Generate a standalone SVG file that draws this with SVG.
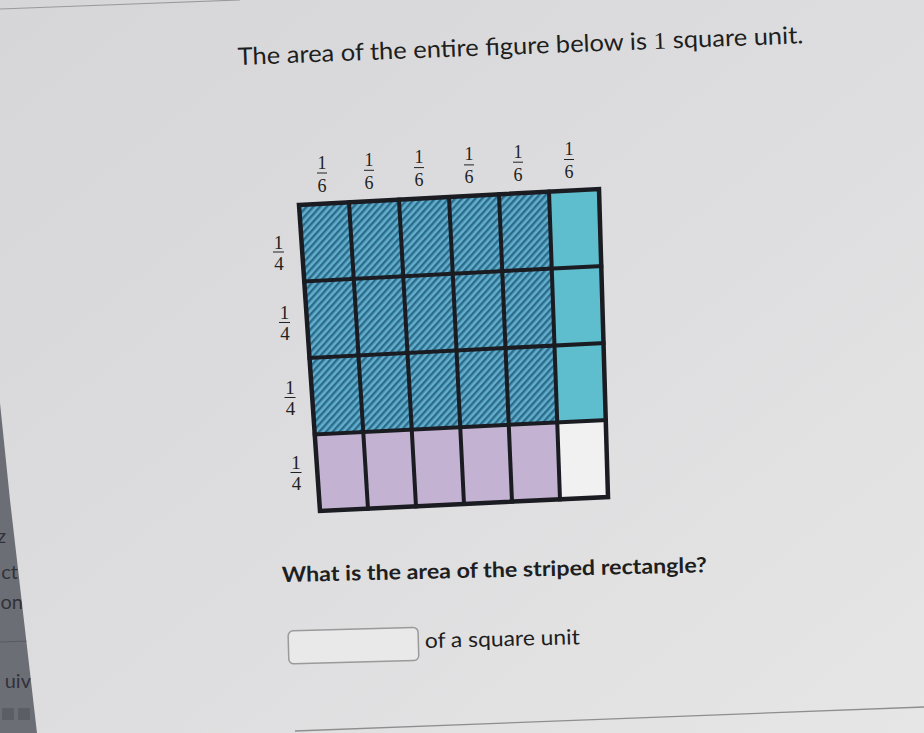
<svg xmlns="http://www.w3.org/2000/svg" width="924" height="733" viewBox="0 0 924 733">
<defs>
<linearGradient id="bg" x1="0" y1="0" x2="1" y2="1">
<stop offset="0" stop-color="#d6d6d8"/>
<stop offset="0.5" stop-color="#dddddf"/>
<stop offset="1" stop-color="#e6e6e6"/>
</linearGradient>
<pattern id="stripes" patternUnits="userSpaceOnUse" width="5" height="5" patternTransform="rotate(42)">
<rect x="0" y="0" width="5" height="5" fill="#62aecd"/>
<rect x="0" y="0" width="2.4" height="5" fill="#2c6b8a"/>
</pattern>
<clipPath id="side"><polygon points="0,403 10,500 37,733 0,733"/></clipPath>
<style>
.sans{font-family:Lato,"Open Sans","Liberation Sans",sans-serif;fill:#1e1e20}
.frac{font-family:"Liberation Serif","DejaVu Serif",serif;fill:#222;text-anchor:middle}
.bar{stroke:#222;stroke-width:1}
.grid{stroke:#1a1c22;stroke-width:4;fill:none;stroke-linecap:square}
</style>
</defs>
<rect x="0" y="0" width="924" height="733" fill="url(#bg)"/>
<line x1="0" y1="9" x2="240" y2="0" stroke="#9a9a9c" stroke-width="1.2"/>
<line x1="295" y1="731" x2="924" y2="707" stroke="#8e8e90" stroke-width="1.3"/>

<g id="sidebar">
<polygon points="0,403 10,500 37,733 0,733" fill="#6c6e76"/>
<g clip-path="url(#side)" font-family="Lato,'Liberation Sans',sans-serif" font-size="20" fill="#30323a" text-anchor="end">
<text x="6" y="543">z</text>
<text x="18" y="579">ct</text>
<text x="23" y="609">on</text>
<line x1="0" y1="642" x2="30" y2="641" stroke="#585a62" stroke-width="1"/>
<text x="31" y="688">uiv</text>
<rect x="2" y="708" width="12" height="12" fill="#5c5e66"/>
<rect x="18" y="708" width="12" height="12" fill="#5c5e66"/>
</g>
</g>

<g id="title">
<text class="sans" x="238" y="65" font-size="24" textLength="566" lengthAdjust="spacingAndGlyphs" transform="rotate(-2.2 238 65)">The area of the entire figure below is <tspan font-family="'Liberation Serif',serif">1</tspan> square unit.</text>
</g>

<g id="figure">
<polygon id="striped" points="299,205 549,191.67 557.25,422.42 314.75,434.5" fill="url(#stripes)"/>
<polygon id="cyan" points="549,191.67 599,189 605.75,420 557.25,422.42" fill="#5ebecd"/>
<polygon id="purple" points="314.75,434.5 557.25,422.42 560,499.33 320,511" fill="#c4b2d2"/>
<polygon id="white" points="557.25,422.42 605.75,420 608,497 560,499.33" fill="#f1f1f1"/>
<g class="grid">
<line x1="349" y1="202.33" x2="368" y2="508.67"/>
<line x1="399" y1="199.67" x2="416" y2="506.33"/>
<line x1="449" y1="197" x2="464" y2="504"/>
<line x1="499" y1="194.33" x2="512" y2="501.67"/>
<line x1="549" y1="191.67" x2="560" y2="499.33"/>
<line x1="304.25" y1="281.5" x2="601.25" y2="266"/>
<line x1="309.5" y1="358" x2="603.5" y2="343"/>
<line x1="314.75" y1="434.5" x2="605.75" y2="420"/>
<polygon points="299,205 599,189 608,497 320,511" stroke-width="4.5" stroke-linejoin="miter"/>
</g>
</g>

<g id="top-labels" font-size="18">
<g id="c1"><text class="frac" x="322" y="168.5">1</text><line class="bar" x1="317" y1="173" x2="327" y2="173"/><text class="frac" x="322" y="191.5">6</text></g>
<g id="c2"><text class="frac" x="369" y="165.8">1</text><line class="bar" x1="364" y1="170.3" x2="374" y2="170.3"/><text class="frac" x="369" y="188.8">6</text></g>
<g id="c3"><text class="frac" x="419" y="163.1">1</text><line class="bar" x1="414" y1="167.6" x2="424" y2="167.6"/><text class="frac" x="419" y="186.1">6</text></g>
<g id="c4"><text class="frac" x="469" y="160.4">1</text><line class="bar" x1="464" y1="164.9" x2="474" y2="164.9"/><text class="frac" x="469" y="183.4">6</text></g>
<g id="c5"><text class="frac" x="518" y="157.7">1</text><line class="bar" x1="513" y1="162.2" x2="523" y2="162.2"/><text class="frac" x="518" y="180.7">6</text></g>
<g id="c6"><text class="frac" x="569" y="155">1</text><line class="bar" x1="564" y1="159.5" x2="574" y2="159.5"/><text class="frac" x="569" y="178">6</text></g>
</g>

<g id="left-labels" font-size="19">
<g id="r1"><text class="frac" x="278.5" y="248.5">1</text><line class="bar" x1="273" y1="252" x2="284" y2="252"/><text class="frac" x="279" y="269.5">4</text></g>
<g id="r2"><text class="frac" x="284.5" y="318.7">1</text><line class="bar" x1="279" y1="322.5" x2="290" y2="322.5"/><text class="frac" x="285" y="340">4</text></g>
<g id="r3"><text class="frac" x="290" y="393.7">1</text><line class="bar" x1="284.5" y1="397.5" x2="295.5" y2="397.5"/><text class="frac" x="290.5" y="415">4</text></g>
<g id="r4"><text class="frac" x="296" y="468.7">1</text><line class="bar" x1="290.5" y1="472.5" x2="301.5" y2="472.5"/><text class="frac" x="296.5" y="490">4</text></g>
</g>

<g id="question">
<text class="sans" x="282" y="582" font-size="21" font-weight="bold" textLength="425" lengthAdjust="spacingAndGlyphs" transform="rotate(-1.3 282 582)">What is the area of the striped rectangle?</text>
</g>

<g id="answer">
<rect x="288" y="631" width="130" height="33" rx="5" fill="#e9e9e9" stroke="#9a9a9a" stroke-width="1.5" transform="rotate(-1.6 288 631)"/>
<text class="sans" x="425" y="648" font-size="21" textLength="155" lengthAdjust="spacingAndGlyphs" transform="rotate(-1.4 425 648)">of a square unit</text>
</g>
</svg>
